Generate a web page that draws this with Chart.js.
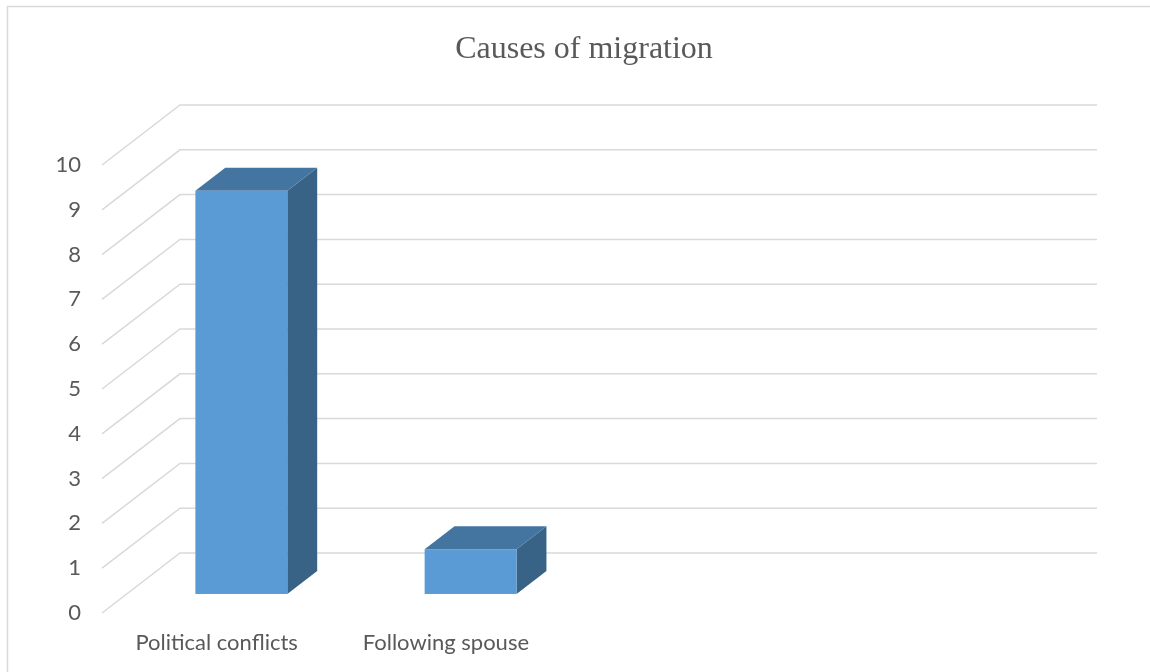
<!DOCTYPE html>
<html>
<head>
<meta charset="utf-8">
<script src="https://cdn.jsdelivr.net/npm/chart.js@4/dist/chart.umd.min.js"></script>
<style>
  html, body { margin: 0; padding: 0; background: #fff; }
  canvas { display: block; }
</style>
</head>
<body>
<canvas id="chart" width="1150" height="672"></canvas>
<script>
const chartTitle = "Causes of migration";
const categories = ["Political conflicts", "Following spouse", "", ""];
const counts = [9, 1, null, null];
const yTicks = [0, 1, 2, 3, 4, 5, 6, 7, 8, 9, 10];

// 3D look: floor depth offset and where the bar sits in that depth
const DX = 78, DY = -60;
const FRONT = 0.317, BACK = 0.70;

const fake3d = {
  id: "fake3d",
  beforeDraw(chart) {
    const ctx = chart.ctx;
    ctx.save();
    ctx.strokeStyle = "#d9d9d9";
    ctx.lineWidth = 1.5;
    ctx.beginPath();
    ctx.moveTo(7.5, chart.height);
    ctx.lineTo(7.5, 6.5);
    ctx.lineTo(chart.width, 6.5);
    ctx.stroke();

    // title centred on the whole canvas, like the original
    ctx.fillStyle = "#595959";
    ctx.font = "32px 'Liberation Serif', 'Times New Roman', serif";
    ctx.textAlign = "center";
    ctx.textBaseline = "alphabetic";
    ctx.fillText(chartTitle, 584, 58);
    ctx.restore();
  },
  beforeDatasetsDraw(chart) {
    const ctx = chart.ctx;
    const area = chart.chartArea;
    const ys = chart.scales.y;

    ctx.save();
    ctx.strokeStyle = "#d9d9d9";
    ctx.lineWidth = 1.5;
    yTicks.forEach(v => {
      const y = ys.getPixelForValue(v);
      ctx.beginPath();
      ctx.moveTo(area.left, y);
      ctx.lineTo(area.left + DX, y + DY);
      ctx.lineTo(area.right + DX, y + DY);
      ctx.stroke();
    });

    const meta = chart.getDatasetMeta(0);
    meta.data.forEach((el, i) => {
      if (counts[i] == null) return;
      const p = el.getProps(["x", "y", "base", "width"], true);
      const x0 = p.x - p.width / 2 + DX * FRONT;
      const x1 = p.x + p.width / 2 + DX * FRONT;
      const yt = p.y + DY * FRONT;
      const yb = p.base + DY * FRONT;
      const ox = DX * (BACK - FRONT), oy = DY * (BACK - FRONT);

      // side
      ctx.fillStyle = "#386286";
      ctx.beginPath();
      ctx.moveTo(x1, yt);
      ctx.lineTo(x1 + ox, yt + oy);
      ctx.lineTo(x1 + ox, yb + oy);
      ctx.lineTo(x1, yb);
      ctx.closePath();
      ctx.fill();

      // top
      ctx.fillStyle = "#4474a0";
      ctx.beginPath();
      ctx.moveTo(x0, yt);
      ctx.lineTo(x0 + ox, yt + oy);
      ctx.lineTo(x1 + ox, yt + oy);
      ctx.lineTo(x1, yt);
      ctx.closePath();
      ctx.fill();

      // front
      ctx.fillStyle = "#5b9bd5";
      ctx.fillRect(x0, yt, x1 - x0, yb - yt);
    });
    ctx.restore();
    return false;
  }
};

new Chart(document.getElementById("chart").getContext("2d"), {
  type: "bar",
  data: {
    labels: categories,
    datasets: [{
      label: "Causes",
      data: counts,
      backgroundColor: "#5b9bd5",
      categoryPercentage: 1,
      barPercentage: 0.401
    }]
  },
  options: {
    responsive: false,
    maintainAspectRatio: false,
    animation: false,
    layout: { padding: { left: 0, right: 131, top: 165, bottom: 0 } },
    plugins: {
      legend: { display: false },
      tooltip: { enabled: false },
      title: { display: false }
    },
    scales: {
      x: {
        grid: { display: false, drawTicks: false },
        border: { display: false },
        ticks: {
          color: "#595959",
          font: { family: "Lato", size: 22 },
          padding: 17,
          maxRotation: 0,
          autoSkip: false
        },
        afterFit(scale) { scale.height = 59; }
      },
      y: {
        min: 0,
        max: 10,
        grid: { display: false, drawTicks: false },
        border: { display: false },
        ticks: {
          stepSize: 1,
          color: "#595959",
          font: { family: "Lato", size: 22 },
          padding: 21
        },
        afterFit(scale) { scale.width = 102; }
      }
    }
  },
  plugins: [fake3d]
});
</script>
</body>
</html>
